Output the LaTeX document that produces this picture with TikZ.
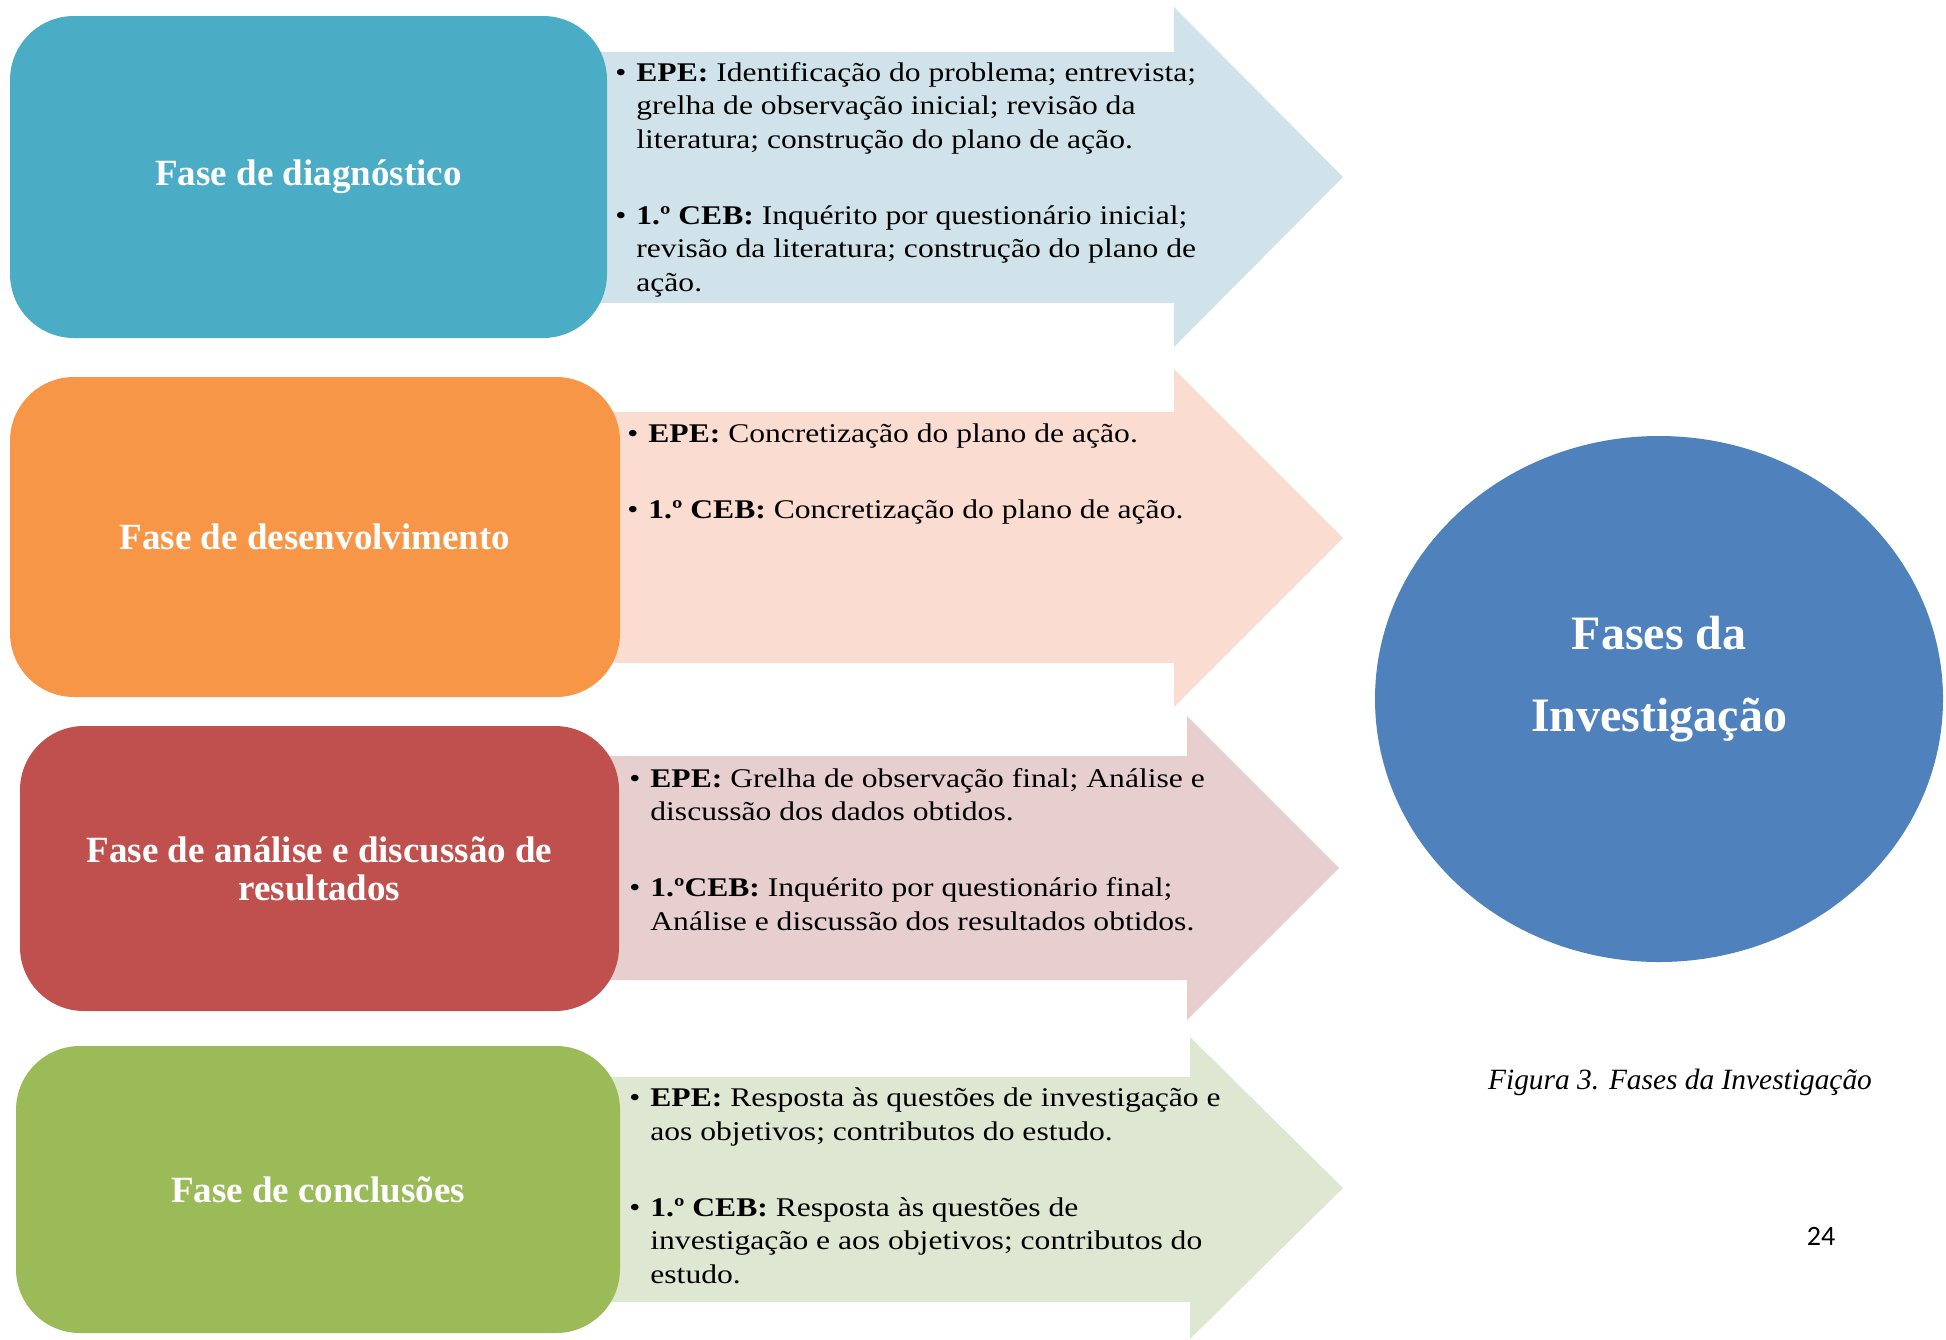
\documentclass[tikz,border=0pt]{standalone}
\usepackage{fontspec}
\setmainfont{Liberation Serif}
\newfontfamily\notefont[FakeStretch=1.17]{Liberation Serif}
\newfontfamily\pagefont{Carlito}
\usetikzlibrary{shapes}
\definecolor{phaseaqua}{HTML}{4BACC6}
\definecolor{phaseorange}{HTML}{F79646}
\definecolor{phasered}{HTML}{C0504D}
\definecolor{phasegreen}{HTML}{9BBB59}
\definecolor{hubblue}{HTML}{4F81BD}
\definecolor{aqualight}{HTML}{D0E3EA}
\definecolor{orangelight}{HTML}{FBDCD0}
\definecolor{redlight}{HTML}{E7CFD0}
\definecolor{greenlight}{HTML}{DEE7D1}
\newcommand{\notebullet}{\makebox[10.5pt][l]{\textbullet}}
\newcommand{\noteindent}{\hspace*{10.5pt}}
\tikzset{
    phasebox/.style={rectangle, rounded corners=32pt, text=white, align=center, inner sep=0pt,
        font=\bfseries\fontsize{18.5}{19}\selectfont},
    notes/.style={anchor=base west, align=left, inner sep=0pt,
        font=\notefont\fontsize{13.5}{16.75}\selectfont},
}

\begin{document}
\begin{tikzpicture}[x=0.5pt, y=-0.5pt]
            \useasboundingbox (0,0) rectangle (1946,1339);
            % arrows behind the phase boxes
            \foreach \ya/\yb/\hx/\hya/\hyb/\tx/\ty/\tint in {52/303/1174/7/347/1343/177/aqualight,
                412/663/1174/369/707/1343/538/orangelight,
                756/980/1187/716/1020/1339/868/redlight,
                1077/1302/1190/1037/1339/1343/1188/greenlight} {
                \fill[\tint] (590,\ya) -- (\hx,\ya) -- (\hx,\hya) -- (\tx,\ty) -- (\hx,\hyb) -- (\hx,\yb) -- (590,\yb) -- cycle;
            }
            % phases
            \node[phasebox, fill=phaseaqua, minimum width=298.5pt, minimum height=161pt] (diag) at (308.5,177) {Fase de diagnóstico};
            \node[phasebox, fill=phaseorange, minimum width=305pt, minimum height=160pt] (dev) at (315,537) {Fase de desenvolvimento};
            \node[phasebox, fill=phasered, minimum width=299.5pt, minimum height=142.5pt] (anal) at (319.5,868.5) {Fase de análise e discussão de\\resultados};
            \node[phasebox, fill=phasegreen, minimum width=302pt, minimum height=143.5pt] (concl) at (318,1189.5) {Fase de conclusões};
            % notes in the arrows (placed by their last line)
            \node[notes] (diagnotes) at (615,291) {\notebullet\textbf{EPE:} Identificação do problema; entrevista;\\
                \noteindent grelha de observação inicial; revisão da\\
                \noteindent literatura; construção do plano de ação.\\[21.25pt]
                \notebullet\textbf{1.º CEB:} Inquérito por questionário inicial;\\
                \noteindent revisão da literatura; construção do plano de\\
                \noteindent ação.};
            \node[notes] (devnotes) at (627,518) {\notebullet\textbf{EPE:} Concretização do plano de ação.\\[21.25pt]
                \notebullet\textbf{1.º CEB:} Concretização do plano de ação.};
            \node[notes] (analnotes) at (629,930) {\notebullet\textbf{EPE:} Grelha de observação final; Análise e\\
                \noteindent discussão dos dados obtidos.\\[21.25pt]
                \notebullet\textbf{1.ºCEB:} Inquérito por questionário final;\\
                \noteindent Análise e discussão dos resultados obtidos.};
            \node[notes] (conclnotes) at (629,1283) {\notebullet\textbf{EPE:} Resposta às questões de investigação e\\
                \noteindent aos objetivos; contributos do estudo.\\[21.25pt]
                \notebullet\textbf{1.º CEB:} Resposta às questões de\\
                \noteindent investigação e aos objetivos; contributos do\\
                \noteindent estudo.};
            % the hub
            \node[ellipse, fill=hubblue, minimum width=284pt, minimum height=263pt] (hub) at (1659,699) {};
            \node[text=white, align=center, font=\bfseries\fontsize{24}{41}\selectfont] (hubtext) at ([yshift=10pt]hub.center) {Fases da\\Investigação};
            \node[anchor=base, font=\itshape\fontsize{14.7}{18}\selectfont] (caption) at (1680,1089) {Figura 3. Fases da Investigação};
            \node[anchor=base, font=\pagefont\fontsize{14}{16}\selectfont] (page) at (1821,1245) {24};
        \end{tikzpicture}
\end{document}
